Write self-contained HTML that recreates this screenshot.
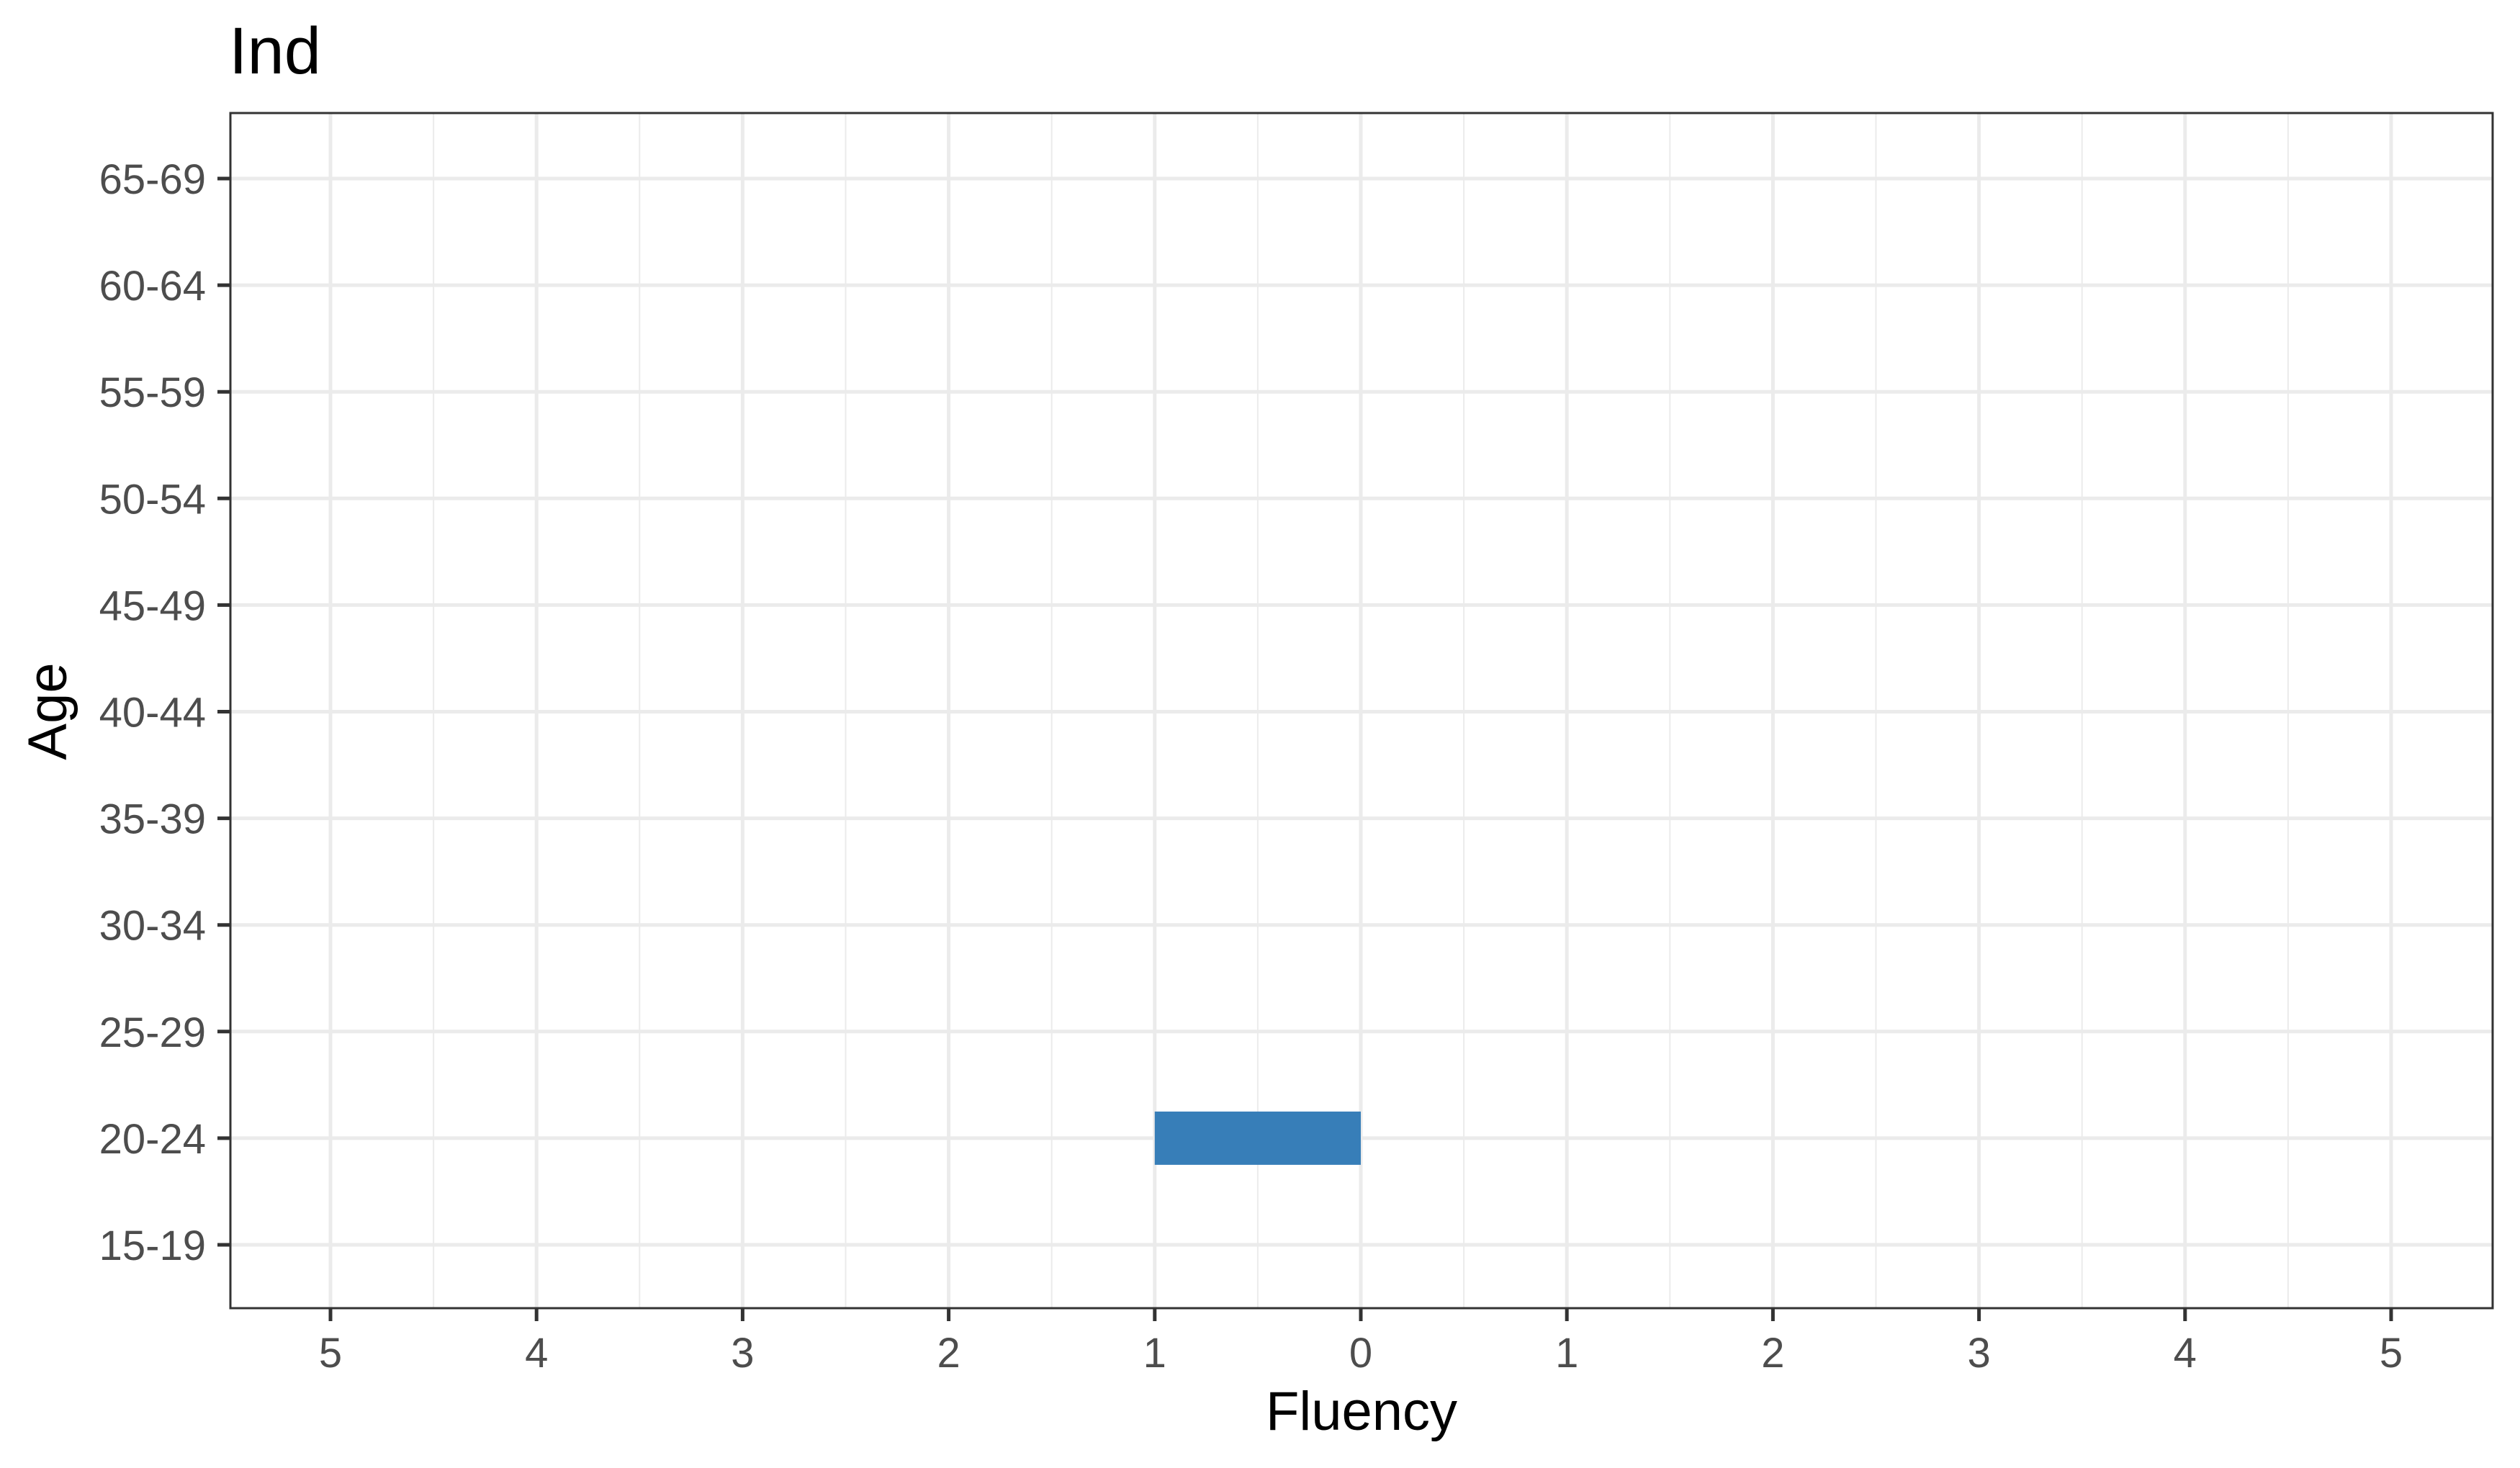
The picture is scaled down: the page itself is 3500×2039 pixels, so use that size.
<!DOCTYPE html>
<html><head><meta charset="utf-8"><style>
body{margin:0;background:#fff}
svg{display:block}
text{font-family:"Liberation Sans",sans-serif}
</style></head><body>
<svg id="chart" width="3500" height="2039">
<text x="318" y="102" font-size="92" fill="#000">Ind</text>
<g id="grid"></g>
<g id="bars"></g>
<rect x="320" y="157" width="3142" height="1660" fill="none" stroke="#333" stroke-width="3"/>
<g id="axes"></g>
<text x="1891" y="1986" font-size="76" text-anchor="middle" fill="#000">Fluency</text>
<text transform="translate(92,988) rotate(-90)" font-size="76" text-anchor="middle" fill="#000">Age</text>
</svg>
<script>
const categories=["15-19","20-24","25-29","30-34","35-39","40-44","45-49","50-54","55-59","60-64","65-69"];
const values=[0,-1,0,0,0,0,0,0,0,0,0];
const xTicks=[-5,-4,-3,-2,-1,0,1,2,3,4,5];
const NS="http://www.w3.org/2000/svg";
const L=320,R=3462,T=157,B=1817;
const x=v=>1890+v*286.2;
const y=i=>1729-i*148.1;
function mk(tag,attrs,parent){const e=document.createElementNS(NS,tag);for(const k in attrs)e.setAttribute(k,attrs[k]);document.getElementById(parent).appendChild(e);return e;}
for(let i=0;i<xTicks.length-1;i++){
 const l=mk('line',{x1:x(xTicks[i]+0.5),x2:x(xTicks[i]+0.5),y1:T,y2:B,stroke:'#ebebeb','stroke-width':2},'grid');
 
 
}
xTicks.forEach(t=>{
 const l=mk('line',{x1:x(t),x2:x(t),y1:T,y2:B,stroke:'#ebebeb','stroke-width':5},'grid');
 
 
 const tk=mk('line',{x1:x(t),x2:x(t),y1:B,y2:B+18,stroke:'#333','stroke-width':5},'axes');
 
 
 const tx=mk('text',{x:x(t),y:1899,'font-size':58,'text-anchor':'middle',fill:'#4d4d4d'},'axes');
 tx.textContent=Math.abs(t);
 
 
});
categories.forEach((c,i)=>{
 const l=mk('line',{x1:L,x2:R,y1:y(i),y2:y(i),stroke:'#ebebeb','stroke-width':5},'grid');
 
 
 const tk=mk('line',{x1:L-18,x2:L,y1:y(i),y2:y(i),stroke:'#333','stroke-width':5},'axes');
 
 
 const tx=mk('text',{x:L-34,y:y(i)+21,'font-size':58,'text-anchor':'end',fill:'#4d4d4d'},'axes');
 tx.textContent=c;
 
 
 if(values[i]!==0){
  const v=values[i];
  const r=mk('rect',{x:Math.min(x(0),x(v)),y:y(i)-37,width:Math.abs(x(v)-x(0)),height:74,fill:'#377eb8'},'bars');
  
  
 }
});
</script>
</body></html>
